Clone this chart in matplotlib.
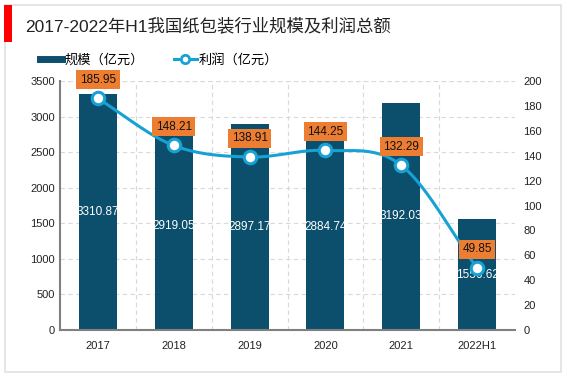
import numpy as np
import matplotlib
matplotlib.use('Agg')
import matplotlib.pyplot as plt
from matplotlib.patches import Rectangle
from matplotlib.lines import Line2D

plt.rcParams['font.family'] = ['Liberation Sans', 'Noto Sans CJK SC']

# data
years = ['2017', '2018', '2019', '2020', '2021', '2022H1']
scale = [3310.87, 2919.05, 2897.17, 2884.74, 3192.03, 1556.62]
profit = [185.95, 148.21, 138.91, 144.25, 132.29, 49.85]

bar_color = '#0b4f6c'
line_color = '#17a2d6'
label_color = '#ed7d31'

fig = plt.figure(figsize=(5.67, 3.78), dpi=100)

# outer frame and red marker
fig.patches.append(Rectangle((5/567, 1-372/378), 556/567, 367/378, transform=fig.transFigure,
                             fill=False, edgecolor='#e0e0e0', linewidth=1.2))
fig.patches.append(Rectangle((4/567, 1-42/378), 8/567, 37/378, transform=fig.transFigure,
                             facecolor='#ff0000', edgecolor='none'))
fig.text(25/567, 1-26/378, '2017-2022年H1我国纸包装行业规模及利润总额', fontsize=12.5,
         va='center', ha='left', color='#222222')

ax = fig.add_axes([60/567, 1-330/378, 455/567, 249/378])
x = np.arange(len(years))
ax.bar(x, scale, width=0.5, color=bar_color, zorder=2)
ax.set_xlim(-0.5, 5.5)
ax.set_ylim(0, 3500)
ax.set_yticks(np.arange(0, 3501, 500))
ax.set_xticks(x)
ax.set_xticklabels(years)
ax.set_xticks(np.arange(0.5, 5.5, 1), minor=True)
ax.grid(axis='y', which='major', color='#d9d9d9', linestyle=(0, (4, 3)), linewidth=0.8, zorder=0)
ax.grid(axis='x', which='minor', color='#d9d9d9', linestyle=(0, (4, 3)), linewidth=0.8, zorder=0)
ax.tick_params(axis='both', which='both', length=0, labelsize=8, colors='#222222')
ax.tick_params(axis='x', pad=8)
for s in ['top', 'right']:
    ax.spines[s].set_visible(False)
for s in ['left', 'bottom']:
    ax.spines[s].set_color('#808080')
    ax.spines[s].set_linewidth(1.5)
ax.axhline(3500, color='#d9d9d9', linestyle=(0, (4, 3)), linewidth=0.8, zorder=0)

for xi, v in zip(x, scale):
    ax.text(xi, v / 2, f'{v:.2f}', ha='center', va='center', color='white', fontsize=8.5, zorder=3)

ax2 = ax.twinx()
ax2.set_ylim(0, 200)
ax2.set_yticks(np.arange(0, 201, 20))
ax2.tick_params(axis='y', length=0, labelsize=8, colors='#222222', pad=6)
for s in ax2.spines.values():
    s.set_visible(False)

# smooth curve through the points (Catmull-Rom style cubic)
xs = np.linspace(0, 5, 300)
ys = np.zeros_like(xs)
n = len(x)
pts = np.array(profit, dtype=float)
for i in range(n - 1):
    p0 = pts[i - 1] if i > 0 else pts[i]
    p1, p2 = pts[i], pts[i + 1]
    p3 = pts[i + 2] if i + 2 < n else pts[i + 1]
    m1 = (p2 - p0) / (2 if i > 0 else 1) * 0.5
    m2 = (p3 - p1) / (2 if i + 2 < n else 1) * 0.5
    mask = (xs >= i) & (xs <= i + 1)
    t = xs[mask] - i
    h00 = 2*t**3 - 3*t**2 + 1
    h10 = t**3 - 2*t**2 + t
    h01 = -2*t**3 + 3*t**2
    h11 = t**3 - t**2
    ys[mask] = h00*p1 + h10*m1*2 + h01*p2 + h11*m2*2
ax2.plot(xs, ys, color=line_color, linewidth=2.2, zorder=3)
ax2.plot(x, profit, linestyle='none', marker='o', markersize=9, markerfacecolor='white',
         markeredgecolor=line_color, markeredgewidth=2.2, zorder=4)

for xi, v in zip(x, profit):
    ax2.text(xi, v + 15, f'{v:.2f}', ha='center', va='center', fontsize=8.5, color='#111111', zorder=5,
             bbox=dict(boxstyle='square,pad=0.3', facecolor=label_color, edgecolor='none'))

# legend
handles = [Line2D([0], [0], color=bar_color, linewidth=5),
           Line2D([0], [0], color=line_color, linewidth=2.2, marker='o', markersize=6,
                  markerfacecolor='white', markeredgecolor=line_color, markeredgewidth=2)]
fig.legend(handles, ['规模（亿元）', '利润（亿元）'], loc='center left',
           bbox_to_anchor=(40/567, 1-60/378), ncol=2, frameon=False, fontsize=9.5,
           handlelength=1.7, handletextpad=0.15, columnspacing=2.3,
           borderpad=0, borderaxespad=0)

fig.savefig('out.png', dpi=100, facecolor='white')
